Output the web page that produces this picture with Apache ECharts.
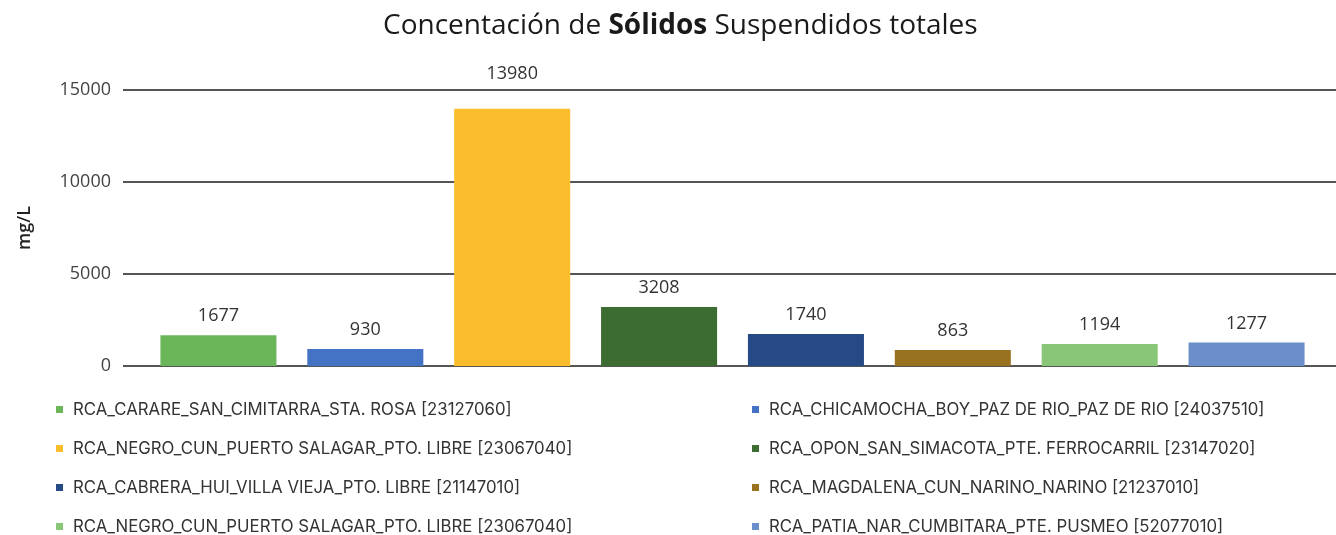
<!DOCTYPE html>
<html>
<head>
<meta charset="utf-8">
<script src="https://cdn.jsdelivr.net/npm/echarts@6/dist/echarts.min.js"></script>
<style>
  html, body { margin: 0; padding: 0; background: #fff; }
  #chart { width: 1336px; height: 535px; }
</style>
</head>
<body>
<div id="chart"></div>
<script>
// estaciones (una serie por estación)
var estaciones = [
  'RCA_CARARE_SAN_CIMITARRA_STA. ROSA [23127060]',
  'RCA_CHICAMOCHA_BOY_PAZ DE RIO_PAZ DE RIO [24037510]',
  'RCA_NEGRO_CUN_PUERTO SALAGAR_PTO. LIBRE [23067040]',
  'RCA_OPON_SAN_SIMACOTA_PTE. FERROCARRIL [23147020]',
  'RCA_CABRERA_HUI_VILLA VIEJA_PTO. LIBRE [21147010]',
  'RCA_MAGDALENA_CUN_NARINO_NARINO [21237010]',
  'RCA_NEGRO_CUN_PUERTO SALAGAR_PTO. LIBRE [23067040] ',
  'RCA_PATIA_NAR_CUMBITARA_PTE. PUSMEO [52077010]'
];
// mg/L
var valores = [1677, 930, 13980, 3208, 1740, 863, 1194, 1277];
var colores = ['#6cb65a', '#4472c4', '#fbbd2c', '#3d6c33', '#264a86', '#997220', '#89c677', '#6a8fcb'];
var ticksY = [0, 5000, 10000, 15000];

var chart = echarts.init(document.getElementById('chart'));

var series = estaciones.map(function (nombre, i) {
  var data = valores.map(function (v, j) { return j === i ? v : '-'; });
  return {
    name: nombre,
    type: 'bar',
    xAxisIndex: 1,
    yAxisIndex: 1,
    stack: 'todo',
    barWidth: '79%',
    itemStyle: { color: colores[i] },
    label: {
      show: true,
      position: 'top',
      // la etiqueta del valor más alto va por encima de la línea de 15000
      distance: i === 2 ? 26 : 10,
      color: '#333',
      fontSize: 18,
      fontFamily: 'Open Sans'
    },
    data: data
  };
});

// leyenda en dos columnas, una leyenda por elemento
var filasY = [410, 449, 488, 527];
var leyendas = estaciones.map(function (nombre, i) {
  return {
    left: i % 2 === 0 ? 56 : 752,
    top: filasY[Math.floor(i / 2)] - 9,
    padding: 0,
    icon: 'rect',
    itemWidth: 7,
    itemHeight: 7,
    data: [nombre],
    textStyle: { fontSize: 16.8, color: '#333', fontFamily: 'Inter', padding: [0, 0, 0, 5] }
  };
});

var option = {
  animation: false,
  backgroundColor: '#fff',
  title: {
    text: '{n|Concentación de }{b|Sólidos}{n| Suspendidos totales}',
    left: 383,
    top: 12,
    padding: 0,
    textStyle: {
      rich: {
        n: { fontSize: 28, color: '#1a1a1a', fontFamily: 'Open Sans', fontWeight: 'normal' },
        b: { fontSize: 28, color: '#1a1a1a', fontFamily: 'Open Sans', fontWeight: 'bold' }
      }
    }
  },
  legend: leyendas,
  grid: [
    { left: 123, right: 0, top: 90, bottom: 169 },
    { left: 145, right: 16, top: 90, bottom: 169 }
  ],
  xAxis: [
    { gridIndex: 0, type: 'value', show: false },
    {
      gridIndex: 1,
      type: 'category',
      data: estaciones.map(function (e, i) { return i; }),
      axisLine: { show: false },
      axisTick: { show: false },
      axisLabel: { show: false }
    }
  ],
  yAxis: [
    {
      gridIndex: 0,
      type: 'value',
      name: 'mg/L',
      nameLocation: 'middle',
      nameGap: 89,
      nameRotate: 90,
      nameTextStyle: { fontSize: 18, color: '#222', fontFamily: 'Open Sans', fontWeight: 600 },
      min: ticksY[0],
      max: ticksY[ticksY.length - 1],
      interval: 5000,
      axisLine: { show: false },
      axisTick: { show: false },
      axisLabel: {
        margin: 12,
        fontSize: 18,
        color: '#444',
        fontFamily: 'Open Sans',
        formatter: function (v) { return String(v); }
      },
      splitLine: { lineStyle: { color: '#555', width: 2 } }
    },
    {
      gridIndex: 1,
      type: 'value',
      min: ticksY[0],
      max: ticksY[ticksY.length - 1],
      interval: 5000,
      show: false
    }
  ],
  series: series
};

chart.setOption(option);
</script>
</body>
</html>
